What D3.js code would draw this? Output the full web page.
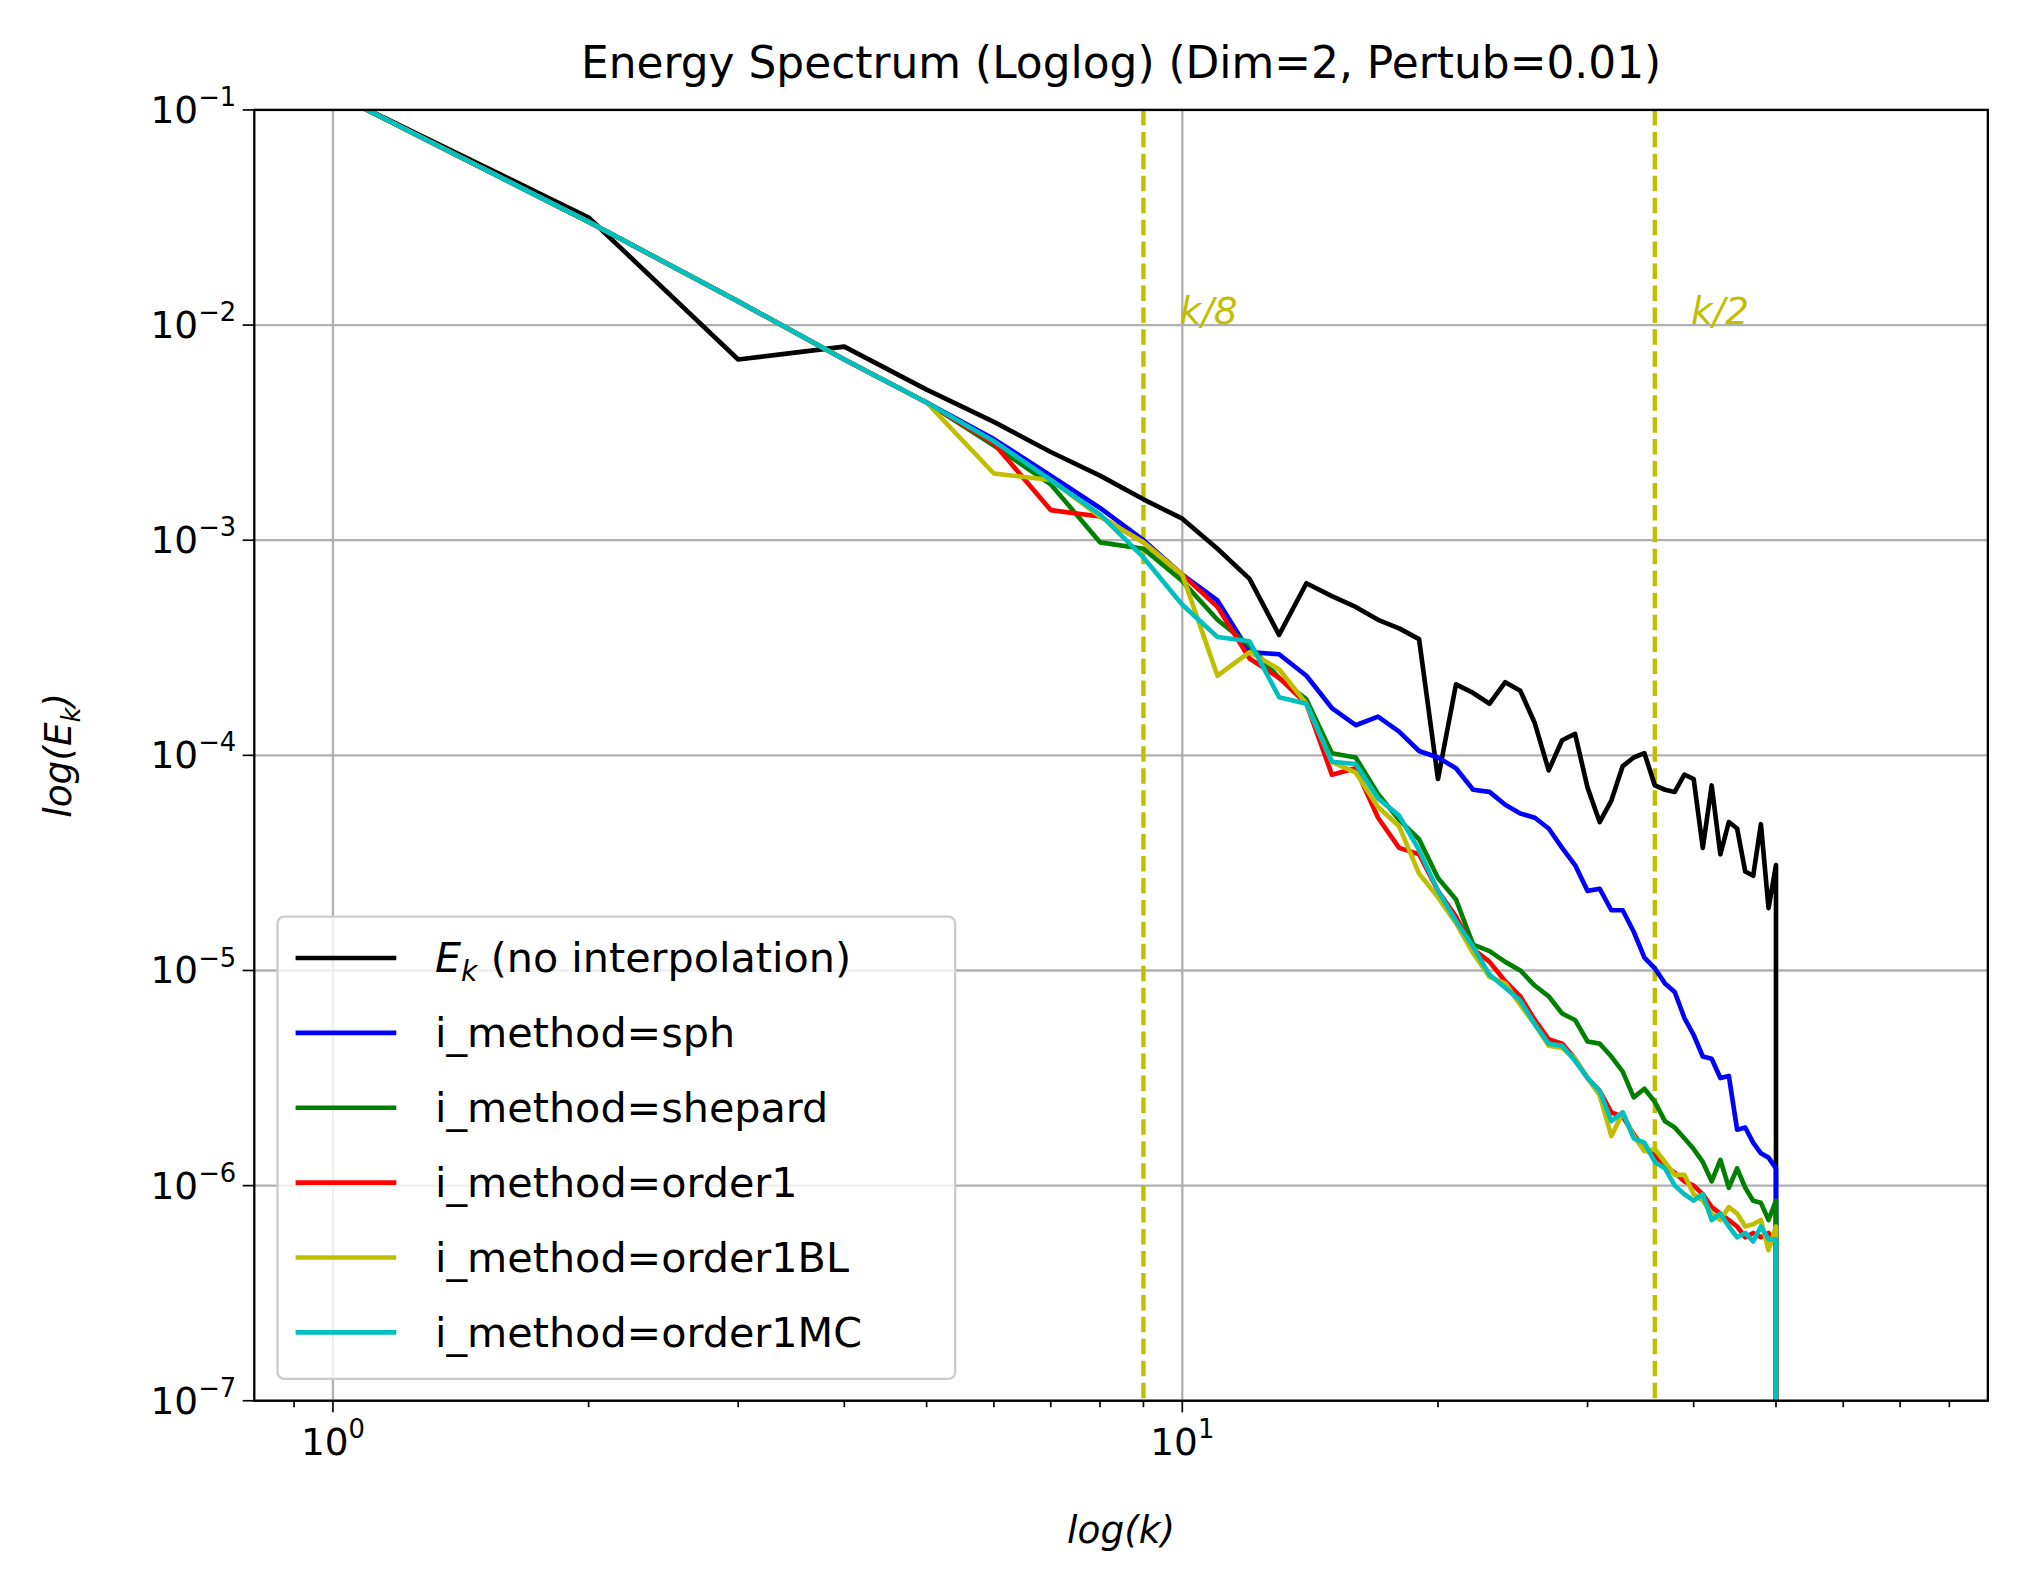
<!DOCTYPE html>
<html><head><meta charset="utf-8">
<script src="https://cdn.jsdelivr.net/npm/d3@7"></script>
<style>body{margin:0;background:#fff}svg{display:block}text{font-family:"DejaVu Sans",sans-serif}</style>
</head><body>
<svg id="c" width="2024" height="1592" viewBox="0 0 1568 1233"></svg>
<script>
const k = d3.range(1, 51);
// values read as log10(E_k)
const logBlack = [-0.92,-1.50,-2.16,-2.10,-2.30,-2.45,-2.59,-2.70,-2.81,-2.90,-3.04,-3.18,-3.44,-3.20,-3.26,-3.31,-3.37,-3.41,-3.46,-4.11,-3.67,-3.71,-3.76,-3.66,-3.70,-3.85,-4.07,-3.93,-3.90,-4.15,-4.31,-4.21,-4.05,-4.01,-3.99,-4.14,-4.16,-4.17,-4.09,-4.11,-4.43,-4.14,-4.46,-4.31,-4.34,-4.54,-4.56,-4.32,-4.71,-4.51];
const logSph = [-0.92,-1.52,-1.89,-2.16,-2.36,-2.53,-2.70,-2.85,-3.00,-3.16,-3.28,-3.52,-3.53,-3.63,-3.78,-3.86,-3.82,-3.89,-3.98,-4.01,-4.06,-4.16,-4.17,-4.23,-4.27,-4.29,-4.34,-4.43,-4.51,-4.63,-4.62,-4.72,-4.72,-4.82,-4.94,-4.99,-5.06,-5.10,-5.22,-5.30,-5.40,-5.41,-5.50,-5.49,-5.74,-5.73,-5.80,-5.85,-5.87,-5.92];
const logShepard = [-0.92,-1.52,-1.89,-2.16,-2.36,-2.56,-2.74,-3.01,-3.04,-3.19,-3.37,-3.49,-3.64,-3.74,-3.99,-4.01,-4.18,-4.30,-4.39,-4.57,-4.67,-4.88,-4.91,-4.96,-5.00,-5.07,-5.12,-5.20,-5.23,-5.33,-5.34,-5.40,-5.47,-5.59,-5.55,-5.61,-5.70,-5.73,-5.78,-5.83,-5.89,-5.98,-5.88,-6.01,-5.92,-6.01,-6.07,-6.08,-6.16,-6.07];
const logOrder1 = [-0.92,-1.52,-1.89,-2.16,-2.36,-2.55,-2.86,-2.89,-3.01,-3.16,-3.31,-3.55,-3.64,-3.76,-4.09,-4.06,-4.29,-4.43,-4.46,-4.63,-4.75,-4.90,-4.96,-5.05,-5.12,-5.23,-5.32,-5.34,-5.41,-5.50,-5.56,-5.66,-5.68,-5.76,-5.83,-5.86,-5.91,-5.94,-5.98,-6.00,-6.04,-6.10,-6.13,-6.16,-6.19,-6.24,-6.22,-6.24,-6.22,-6.28];
const logOrder1BL = [-0.92,-1.52,-1.89,-2.16,-2.36,-2.69,-2.72,-2.89,-3.01,-3.16,-3.63,-3.52,-3.60,-3.76,-4.03,-4.08,-4.24,-4.33,-4.55,-4.66,-4.78,-4.92,-5.03,-5.06,-5.16,-5.25,-5.35,-5.36,-5.41,-5.50,-5.58,-5.77,-5.66,-5.77,-5.84,-5.83,-5.89,-5.95,-5.95,-6.04,-6.07,-6.13,-6.16,-6.10,-6.13,-6.19,-6.18,-6.16,-6.30,-6.19];
const logOrder1MC = [-0.92,-1.52,-1.89,-2.16,-2.36,-2.54,-2.72,-2.88,-3.08,-3.30,-3.45,-3.47,-3.73,-3.76,-4.03,-4.04,-4.20,-4.28,-4.44,-4.63,-4.77,-4.89,-5.02,-5.08,-5.14,-5.25,-5.34,-5.35,-5.42,-5.50,-5.56,-5.70,-5.66,-5.78,-5.80,-5.89,-5.92,-6.00,-6.04,-6.07,-6.04,-6.16,-6.13,-6.19,-6.24,-6.22,-6.26,-6.19,-6.25,-6.25];
const seriesNames = ["E_k (no interpolation)","i_method=sph","i_method=shepard","i_method=order1","i_method=order1BL","i_method=order1MC"];
const seriesColors = ["#000000","#0000ff","#008000","#ff0000","#bfbf00","#00bfbf"];
const seriesLogs = [logBlack,logSph,logShepard,logOrder1,logOrder1BL,logOrder1MC];
const vLines = [9, 36];
const vLabels = ["k/8","k/2"];
const yTicks = [-1,-2,-3,-4,-5,-6,-7];

const svg = d3.select("#c");
const L=197,R=1540,T=85,B=1085;
const x = d3.scaleLog().domain([0.808, 88.8]).range([L,R]);
const y = d3.scaleLog().domain([1e-7, 1e-1]).range([B,T]);
svg.append("defs").append("clipPath").attr("id","cp").append("rect").attr("x",L).attr("y",T).attr("width",R-L).attr("height",B-T);

[1,10].forEach(v=>svg.append("line").attr("x1",x(v)).attr("x2",x(v)).attr("y1",T).attr("y2",B).attr("stroke","#b0b0b0").attr("stroke-width",1.8));
yTicks.forEach(e=>svg.append("line").attr("x1",L).attr("x2",R).attr("y1",y(10**e)).attr("y2",y(10**e)).attr("stroke","#b0b0b0").attr("stroke-width",1.8));

const minorX = [0.9,2,3,4,5,6,7,8,9,20,30,40,50,60,70,80];
minorX.forEach(v=>svg.append("line").attr("x1",x(v)).attr("x2",x(v)).attr("y1",B).attr("y2",B+5).attr("stroke","#000").attr("stroke-width",1.3));
[1,10].forEach((v,i)=>{
  svg.append("line").attr("x1",x(v)).attr("x2",x(v)).attr("y1",B).attr("y2",B+9).attr("stroke","#000").attr("stroke-width",1.3);
  const t=svg.append("text").attr("x",x(v)).attr("y",B+42).attr("text-anchor","middle").attr("font-size",29);
  t.append("tspan").text("10");
  t.append("tspan").attr("dy",-13).attr("font-size",20).text(i);
});
yTicks.forEach(e=>{
  const yy=y(10**e);
  svg.append("line").attr("x1",L-9).attr("x2",L).attr("y1",yy).attr("y2",yy).attr("stroke","#000").attr("stroke-width",1.3);
  const t=svg.append("text").attr("x",L-14).attr("y",yy+10).attr("text-anchor","end").attr("font-size",29);
  t.append("tspan").text("10");
  t.append("tspan").attr("dy",-13).attr("font-size",20).text("\u2212"+(-e));
});

vLines.forEach((v,i)=>{
  svg.append("line").attr("x1",x(v)).attr("x2",x(v)).attr("y1",T).attr("y2",B).attr("stroke","#bfbf00").attr("stroke-width",3.4).attr("stroke-dasharray","12,5");
  svg.append("text").attr("x",x(v)+28).attr("y",251).attr("font-size",29).attr("font-style","italic").attr("fill","#bfbf00").text(vLabels[i]);
});

const line = d3.line().x(d=>x(d[0])).y(d=>y(d[1]));
const g = svg.append("g").attr("clip-path","url(#cp)");
seriesLogs.forEach((arr,i)=>{
  const pts = k.map((kk,j)=>[kk,10**arr[j]]);
  pts.push([50,1e-9]);
  g.append("path").attr("d",line(pts)).attr("fill","none").attr("stroke",seriesColors[i]).attr("stroke-width",3.6).attr("stroke-linejoin","round");
});

svg.append("rect").attr("x",L).attr("y",T).attr("width",R-L).attr("height",B-T).attr("fill","none").attr("stroke","#000").attr("stroke-width",1.8);

svg.append("text").attr("x",(L+R)/2).attr("y",60).attr("text-anchor","middle").attr("font-size",34).text("Energy Spectrum (Loglog) (Dim=2, Pertub=0.01)");
svg.append("text").attr("x",(L+R)/2).attr("y",1195).attr("text-anchor","middle").attr("font-size",29).attr("font-style","italic").text("log(k)");
const yl=svg.append("text").attr("transform",`translate(55,${(T+B)/2}) rotate(-90)`).attr("text-anchor","middle").attr("font-size",29).attr("font-style","italic");
yl.append("tspan").text("log(E");
yl.append("tspan").attr("dy",7).attr("font-size",20).text("k");
yl.append("tspan").attr("dy",-7).text(")");

const lg=svg.append("g");
lg.append("rect").attr("x",215).attr("y",710).attr("width",525).attr("height",358).attr("rx",5).attr("fill","#fff").attr("fill-opacity",0.8).attr("stroke","#cccccc").attr("stroke-width",1.8);
seriesNames.forEach((n,i)=>{
  const yy=742+i*58;
  lg.append("line").attr("x1",229).attr("x2",307).attr("y1",yy).attr("y2",yy).attr("stroke",seriesColors[i]).attr("stroke-width",3.6);
  const t=lg.append("text").attr("x",337).attr("y",yy+11).attr("font-size",32);
  if(i===0){
    t.append("tspan").attr("font-style","italic").text("E");
    t.append("tspan").attr("dy",7).attr("font-size",22).attr("font-style","italic").text("k");
    t.append("tspan").attr("dy",-7).text(" (no interpolation)");
  } else t.text(n);
});
</script>
</body></html>
